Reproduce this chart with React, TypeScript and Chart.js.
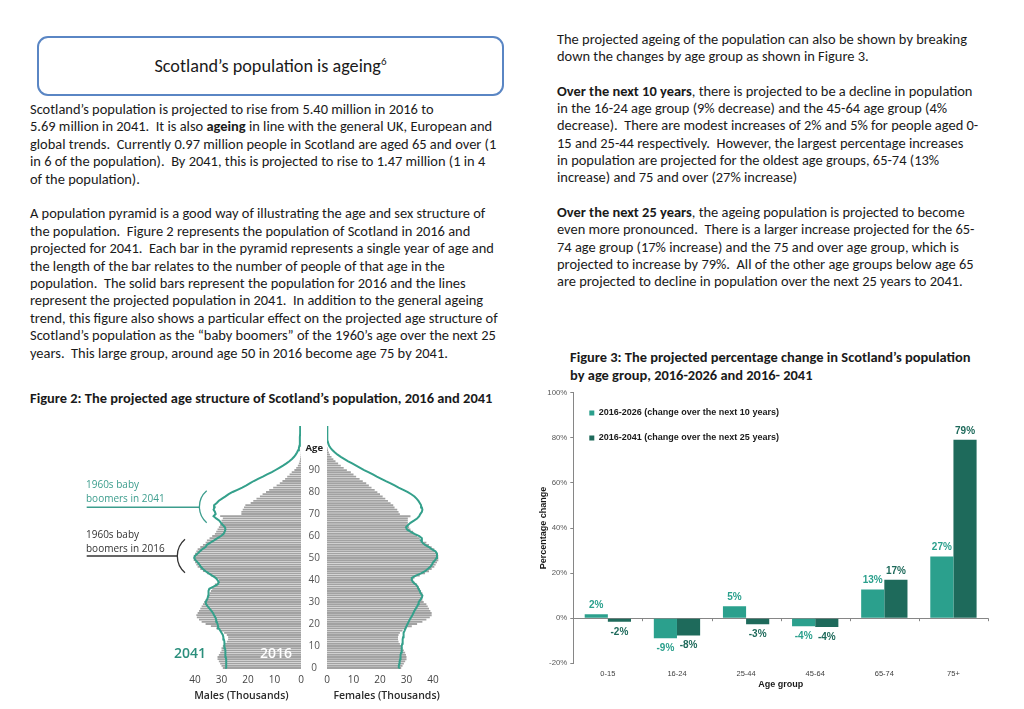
import React, { useEffect, useRef } from "react";
import { Chart, registerables } from "chart.js";
Chart.register(...registerables);

// ---------------- Figure 3 data ----------------
const ageGroups = ["0-15", "16-24", "25-44", "45-64", "65-74", "75+"];
const change2016to2026 = [1.8, -8.9, 5.3, -3.6, 12.7, 27.4];
const change2016to2041 = [-1.6, -7.7, -2.7, -3.9, 17.0, 79.1];
const seriesNames = [
  "2016-2026 (change over the next 10 years)",
  "2016-2041 (change over the next 25 years)",
];
const pctTickValues = [-20, 0, 20, 40, 60, 80, 100];

// ---------------- Figure 2 data (thousands, by single year of age) ----------------
const ages = Array.from({ length: 111 }, (_, i) => String(i));
const ageTickLabels = ["0", "10", "20", "30", "40", "50", "60", "70", "80", "90"];
const ageTitleLabel = "Age";
const ageTitleAt = "100";
const thousandsTicks = [0, 10, 20, 30, 40];

const males2016 = [
  29.5, 30, 30.5, 31, 31.5, 31.5, 31, 30.5, 30, 30,
  29.5, 29, 28, 27.5, 27.5, 28, 29, 30.5, 32, 34,
  36, 37.5, 38.5, 39.3, 39.5, 39, 38.5, 38, 37.5, 37,
  36.5, 36, 35.5, 35, 34.5, 34, 33.5, 33, 32.5, 31.5,
  31, 32.5, 34, 35.5, 37, 38, 39, 39.5, 40, 40.5,
  40.5, 40.5, 40, 39.5, 39, 38, 37, 36, 35.5, 34.5,
  33.5, 32.5, 32, 31.5, 31, 30.5, 30, 30, 29.5, 30.5,
  22.5, 22.5, 22, 21.5, 21, 19, 18, 16.8, 15.5, 14.5,
  13.2, 12, 10.5, 9.2, 8, 7, 6, 5.2, 4.3, 3.5,
  2.5, 1.8, 1.2, 0.8, 0.5, 0.3, 0.2, 0.1, 0.05, 0.03, 0.02,
];
const females2016 = [
  28, 28.5, 29, 29.5, 30, 30, 29.8, 29.5, 29, 28.5,
  28, 27.5, 27, 26.8, 26.8, 27, 27.5, 28.5, 30, 32,
  34, 36, 37.5, 38.8, 39.5, 39.5, 39, 38.5, 38, 37.5,
  36.5, 36, 36, 36, 36, 35.5, 35, 34.5, 34, 33,
  32.5, 33, 35, 37, 38.5, 39.5, 40.5, 41, 41.5, 42,
  42, 42, 41.5, 41, 40.5, 39.5, 38.5, 37.5, 36, 35,
  34, 33, 32.5, 31.5, 31, 30.5, 30.5, 30.5, 30.5, 31.5,
  27.5, 27, 26.5, 25.5, 25, 24, 23, 22, 21, 20,
  19, 18, 16.8, 15.8, 14.8, 13.5, 12.3, 11, 10, 9,
  7.5, 6.3, 5.2, 4.2, 3.2, 2.4, 1.7, 1.1, 0.7, 0.4, 0.2,
];
const males2041 = [
  28, 28.1, 28.2, 28.3, 28.3, 28.4, 28.5, 28.5, 28.6, 28.7,
  28.8, 28.9, 29, 29.1, 29.3, 29.5, 30, 30.5, 31, 31.3,
  31.5, 31.8, 32, 32.3, 32.8, 33.2, 33.8, 34.5, 35.2, 35.8,
  36, 35.5, 35.2, 35, 34.8, 35, 34.6, 33, 31.5, 31,
  31.5, 32.2, 33.5, 34.8, 36, 37, 37.8, 38.3, 39, 39.8,
  40.3, 40, 39, 38.2, 37.3, 36, 35.5, 34.2, 32.8, 31.5,
  30.2, 29.2, 28.8, 28.5, 28.7, 29.5, 30.2, 30.8, 32, 33,
  32.2, 32.5, 33, 32.6, 32.8, 31.8, 31, 29.8, 28.5, 27.3,
  25.8, 24, 22.2, 20.6, 19.2, 17.8, 16.2, 14.4, 12.8, 11,
  9.6, 8.2, 6.8, 5.5, 4.4, 3.4, 2.6, 2, 1.5, 1.1,
  0.8, 0.6, 0.5, 0.45, 0.4, 0.38, 0.36, 0.34, 0.32, 0.3, 0.3,
];
const females2041 = [
  27, 27.1, 27.3, 27.4, 27.6, 27.7, 27.8, 28, 28.1, 28.2,
  28.3, 28.4, 28.5, 28.6, 28.7, 28.8, 29, 29.3, 29.6, 30,
  30.4, 30.8, 31.2, 31.7, 32.2, 32.6, 33, 33.5, 34, 34.4,
  34.6, 35.2, 35.8, 36, 35.3, 35, 34.5, 34.2, 33.5, 32.5,
  32, 32, 33.5, 35.5, 37, 38, 39, 39.6, 40, 40.8,
  41.3, 41.5, 41.5, 41, 39.5, 38.5, 37, 36, 35.5, 35.8,
  34.8, 33, 31.5, 30.2, 29.8, 30.6, 31.5, 32.8, 34, 34.8,
  35.2, 35.8, 36, 35.8, 35.5, 35, 34.5, 33.8, 33, 31.8,
  30.5, 28.8, 27, 25.5, 24, 22.2, 20.5, 18.8, 17.3, 15.8,
  14, 12.5, 11, 9.5, 8, 6.6, 5.2, 4, 3, 2.1,
  1.4, 0.8, 0.5, 0.3, 0.2, 0.15, 0.1, 0.1, 0.1, 0.1, 0.1,
];

// ---------------- Page text ----------------
const leftPara1 = [
  "Scotland’s population is projected to rise from 5.40 million in 2016 to",
  "5.69 million in 2041.  It is also **ageing** in line with the general UK, European and",
  "global trends.  Currently 0.97 million people in Scotland are aged 65 and over (1",
  "in 6 of the population).  By 2041, this is projected to rise to 1.47 million (1 in 4",
  "of the population).",
];
const leftPara2 = [
  "A population pyramid is a good way of illustrating the age and sex structure of",
  "the population.  Figure 2 represents the population of Scotland in 2016 and",
  "projected for 2041.  Each bar in the pyramid represents a single year of age and",
  "the length of the bar relates to the number of people of that age in the",
  "population.  The solid bars represent the population for 2016 and the lines",
  "represent the projected population in 2041.  In addition to the general ageing",
  "trend, this figure also shows a particular effect on the projected age structure of",
  "Scotland’s population as the “baby boomers” of the 1960’s age over the next 25",
  "years.  This large group, around age 50 in 2016 become age 75 by 2041.",
];
const fig2Caption = ["**Figure 2: The projected age structure of Scotland’s population, 2016 and 2041**"];
const rightPara1 = [
  "The projected ageing of the population can also be shown by breaking",
  "down the changes by age group as shown in Figure 3.",
];
const rightPara2 = [
  "**Over the next 10 years**, there is projected to be a decline in population",
  "in the 16-24 age group (9% decrease) and the 45-64 age group (4%",
  "decrease).  There are modest increases of 2% and 5% for people aged 0-",
  "15 and 25-44 respectively.  However, the largest percentage increases",
  "in population are projected for the oldest age groups, 65-74 (13%",
  "increase) and 75 and over (27% increase)",
];
const rightPara3 = [
  "**Over the next 25 years**, the ageing population is projected to become",
  "even more pronounced.  There is a larger increase projected for the 65-",
  "74 age group (17% increase) and the 75 and over age group, which is",
  "projected to increase by 79%.  All of the other age groups below age 65",
  "are projected to decline in population over the next 25 years to 2041.",
];
const fig3Caption = [
  "**Figure 3: The projected percentage change in Scotland’s population**",
  "**by age group, 2016-2026 and 2016- 2041**",
];

const BODY_FONT = "Carlito, Calibri, Lato, 'Open Sans', sans-serif";
const BODY_SIZE = 14.45;
const NARROW = "'Liberation Sans Narrow', 'Arial Narrow', 'Liberation Sans', Arial, sans-serif";
const ARIAL = "'Liberation Sans', Arial, sans-serif";
const PYR_FONT = "'Open Sans', 'Noto Sans', sans-serif";
const TEAL = "#34a08b";
const GRAY = "#a2a2a2";
const LIGHT = "#2ba08d";
const DARK = "#1e6a5b";

function renderRich(s: string) {
  const parts = s.split("**");
  return parts.map((p, i) => (i % 2 === 1 ? <b key={i}>{p}</b> : <span key={i}>{p}</span>));
}

function TextBlock({ lines, x, ys }: { lines: string[]; x: number; ys: number[] }) {
  return (
    <>
      {lines.map((l, i) => (
        <div
          key={i}
          style={{
            position: "absolute",
            left: x,
            top: ys[i] - 9,
            height: 18,
            lineHeight: "18px",
            whiteSpace: "pre",
            fontSize: BODY_SIZE,
          }}
        >
          {renderRich(l)}
        </div>
      ))}
    </>
  );
}

function usePyramid(ref: React.RefObject<HTMLCanvasElement>, side: "m" | "f") {
  useEffect(() => {
    if (!ref.current) return;
    const isM = side === "m";
    const chart = new Chart(ref.current, {
      type: "bar",
      data: {
        labels: ages,
        datasets: [
          {
            type: "line",
            label: "2041",
            data: isM ? males2041 : females2041,
            borderColor: TEAL,
            borderWidth: 2,
            pointRadius: 0,
            fill: false,
            order: 0,
          } as any,
          {
            type: "bar",
            label: "2016",
            data: isM ? males2016 : females2016,
            backgroundColor: GRAY,
            barPercentage: 1,
            categoryPercentage: 0.84,
            order: 1,
          },
        ],
      },
      options: {
        indexAxis: "y",
        animation: false,
        responsive: false,
        maintainAspectRatio: false,
        layout: { padding: isM ? { left: 31.75, right: 5, top: 9.9, bottom: 0 } : { left: 0, right: 5.75, top: 9.9, bottom: 0 } },
        plugins: { legend: { display: false }, tooltip: { enabled: false } },
        scales: {
          x: {
            type: "linear",
            reverse: isM,
            min: 0,
            max: 45,
            afterBuildTicks: (s: any) => {
              s.ticks = thousandsTicks.map((v) => ({ value: v }));
            },
            afterFit: (s: any) => {
              s.height = 35.9;
            },
            grid: { display: false, drawTicks: false },
            border: { display: false },
            ticks: { padding: 5, color: "#444", font: { family: PYR_FONT, size: 10 } },
            title: {
              display: true,
              text: isM ? "Males (Thousands)" : "Females (Thousands)",
              padding: { top: 0, bottom: 3 },
              color: "#2a2a2a",
              font: { family: PYR_FONT, size: 10.5, weight: "600" },
            },
          },
          y: {
            type: "category",
            reverse: true,
            display: !isM,
            afterFit: (s: any) => {
              s.width = isM ? 0 : 25;
            },
            grid: { display: false, drawTicks: false },
            border: { display: false },
            ticks: {
              autoSkip: false,
              padding: 4,
              crossAlign: "center",
              color: (c: any) => (ages[c.index] === ageTitleAt ? "#222" : "#555"),
              font: (c: any) =>
                ages[c.index] === ageTitleAt
                  ? { family: PYR_FONT, size: 9.5, weight: "bold" }
                  : { family: PYR_FONT, size: 10 },
              callback: (_v: any, i: number) => {
                const lbl = ages[i];
                if (ageTickLabels.includes(lbl)) return lbl;
                if (lbl === ageTitleAt) return ageTitleLabel;
                return "";
              },
            },
          },
        },
      } as any,
    });
    return () => chart.destroy();
  }, []);
}

function Pyramid() {
  const mRef = useRef<HTMLCanvasElement>(null);
  const fRef = useRef<HTMLCanvasElement>(null);
  usePyramid(mRef, "m");
  usePyramid(fRef, "f");
  return (
    <>
      <canvas ref={mRef} width={156} height={290} style={{ position: "absolute", left: 150, top: 415, width: 156, height: 290 }} />
      <canvas ref={fRef} width={150} height={290} style={{ position: "absolute", left: 302, top: 415, width: 150, height: 290 }} />
      <svg width={1024} height={709} style={{ position: "absolute", left: 0, top: 0, pointerEvents: "none" }}>
        <line x1={86.7} y1={507.3} x2={199.5} y2={507.3} stroke="#3c9d8d" strokeWidth={1.4} />
        <path d="M 206.7 490.7 A 21.2 21.2 0 0 0 206.7 522.7" fill="none" stroke="#3c9d8d" strokeWidth={1.3} />
        <line x1={86.7} y1={556} x2={177.5} y2={556} stroke="#333" strokeWidth={1.4} />
        <path d="M 185 539.3 A 22 22 0 0 0 185 572.7" fill="none" stroke="#333" strokeWidth={1.3} />
      </svg>
      <div style={{ position: "absolute", left: 86, top: 477, fontFamily: PYR_FONT, fontSize: 10, lineHeight: "14px", color: "#3c9d8d" }}>
        1960s baby
        <br />
        boomers in 2041
      </div>
      <div style={{ position: "absolute", left: 86, top: 527, fontFamily: PYR_FONT, fontSize: 10, lineHeight: "14px", color: "#333" }}>
        1960s baby
        <br />
        boomers in 2016
      </div>
      <div style={{ position: "absolute", left: 170, top: 643, width: 40, textAlign: "center", fontFamily: PYR_FONT, fontSize: 14, lineHeight: "20px", fontWeight: 600, color: "#2b8f7c" }}>
        2041
      </div>
      <div style={{ position: "absolute", left: 256, top: 643, width: 40, textAlign: "center", fontFamily: PYR_FONT, fontSize: 14, lineHeight: "20px", fontWeight: 600, color: "#ffffff" }}>
        2016
      </div>
    </>
  );
}

const barLabelPlugin = {
  id: "barLabels",
  afterDatasetsDraw(chart: any) {
    const ctx = chart.ctx;
    const colors = [LIGHT, DARK];
    chart.data.datasets.forEach((ds: any, di: number) => {
      const meta = chart.getDatasetMeta(di);
      meta.data.forEach((el: any, i: number) => {
        const v = ds.data[i];
        ctx.save();
        ctx.font = `bold 10px ${NARROW}`;
        ctx.fillStyle = colors[di];
        ctx.textAlign = "center";
        ctx.textBaseline = "middle";
        ctx.fillText(`${Math.round(v)}%`, el.x, v >= 0 ? el.y - 9 : el.y + 10);
        ctx.restore();
      });
    });
  },
};

const zeroTickPlugin = {
  id: "zeroTicks",
  afterDraw(chart: any) {
    const xs = chart.scales.x;
    const ys = chart.scales.y;
    const y0 = ys.getPixelForValue(0);
    const ctx = chart.ctx;
    ctx.save();
    ctx.strokeStyle = "#868686";
    ctx.lineWidth = 1;
    for (let i = 0; i <= ageGroups.length; i++) {
      const px = Math.round(xs.getPixelForValue(i - 0.5)) + 0.5;
      ctx.beginPath();
      ctx.moveTo(px, y0);
      ctx.lineTo(px, y0 + 3);
      ctx.stroke();
    }
    ctx.restore();
  },
};

function ChangeChart() {
  const ref = useRef<HTMLCanvasElement>(null);
  useEffect(() => {
    if (!ref.current) return;
    const chart = new Chart(ref.current, {
      type: "bar",
      data: {
        labels: ageGroups,
        datasets: [
          { label: seriesNames[0], data: change2016to2026, backgroundColor: LIGHT, borderWidth: 0, barPercentage: 1, categoryPercentage: 0.67 },
          { label: seriesNames[1], data: change2016to2041, backgroundColor: DARK, borderWidth: 0, barPercentage: 1, categoryPercentage: 0.67 },
        ],
      },
      options: {
        animation: false,
        responsive: false,
        maintainAspectRatio: false,
        layout: { padding: { left: 0, right: 7, top: 9.7, bottom: 0 } },
        plugins: {
          tooltip: { enabled: false },
          legend: {
            position: "chartArea",
            align: "start",
            title: { display: true, text: " ", padding: 0, font: { size: 9.5, lineHeight: 1 } },
            labels: {
              boxWidth: 5,
              boxHeight: 5,
              padding: 16,
              color: "#1a1a1a",
              font: { family: NARROW, size: 9, weight: "bold" },
            },
          },
        },
        scales: {
          x: {
            afterFit: (s: any) => {
              s.height = 39.7;
            },
            grid: { display: false, drawTicks: false },
            border: { display: false },
            ticks: { padding: 6, color: "#404040", font: { family: ARIAL, size: 7.5 } },
            title: {
              display: true,
              text: "Age group",
              padding: { top: 0, bottom: 13.5 },
              color: "#1a1a1a",
              font: { family: NARROW, size: 9, weight: "bold" },
            },
          },
          y: {
            min: -20,
            max: 100,
            afterBuildTicks: (s: any) => {
              s.ticks = pctTickValues.map((v) => ({ value: v }));
            },
            afterFit: (s: any) => {
              s.width = 43.3;
            },
            grid: {
              color: (c: any) => (c.tick && c.tick.value === 0 ? "#868686" : "rgba(0,0,0,0)"),
              tickColor: "#868686",
              tickLength: 3,
              drawTicks: true,
            },
            border: { display: true, color: "#868686" },
            ticks: { padding: 3, color: "#595959", font: { family: ARIAL, size: 7.8 }, callback: (v: any) => `${v}%` },
            title: {
              display: true,
              text: "Percentage change",
              padding: { top: 8, bottom: 0 },
              color: "#1a1a1a",
              font: { family: NARROW, size: 9, weight: "bold" },
            },
          },
        },
      } as any,
      plugins: [barLabelPlugin, zeroTickPlugin],
    });
    return () => chart.destroy();
  }, []);
  return <canvas ref={ref} width={465} height={320} style={{ position: "absolute", left: 530, top: 383, width: 465, height: 320 }} />;
}

export default function App() {
  return (
    <div
      style={{
        position: "absolute",
        left: 0,
        top: 0,
        width: 1024,
        height: 709,
        overflow: "hidden",
        background: "#fff",
        fontFamily: BODY_FONT,
        color: "#1a1a1a",
      }}
    >
      <div
        style={{
          position: "absolute",
          left: 37,
          top: 36,
          width: 467,
          height: 60,
          boxSizing: "border-box",
          border: "2px solid #5a86c4",
          borderRadius: 11,
        }}
      />
      <div
        style={{
          position: "absolute",
          left: 37,
          width: 467,
          top: 55,
          height: 22,
          lineHeight: "22px",
          textAlign: "center",
          fontSize: 18.2,
          whiteSpace: "pre",
        }}
      >
        Scotland’s population is ageing
        <span style={{ fontSize: 11, position: "relative", top: -7 }}>6</span>
      </div>
      <TextBlock lines={leftPara1} x={30} ys={[108.5, 126, 143.5, 161, 178.5]} />
      <TextBlock lines={leftPara2} x={30} ys={[213, 230.5, 248, 265.5, 283, 300, 317.5, 335, 352.5]} />
      <TextBlock lines={fig2Caption} x={30} ys={[398]} />
      <TextBlock lines={rightPara1} x={557} ys={[38.5, 55.5]} />
      <TextBlock lines={rightPara2} x={557} ys={[90.5, 108, 125, 142.5, 160, 177]} />
      <TextBlock lines={rightPara3} x={557} ys={[212, 229, 246.5, 264, 281]} />
      <TextBlock lines={fig3Caption} x={570} ys={[357, 374.5]} />
      <Pyramid />
      <ChangeChart />
    </div>
  );
}
